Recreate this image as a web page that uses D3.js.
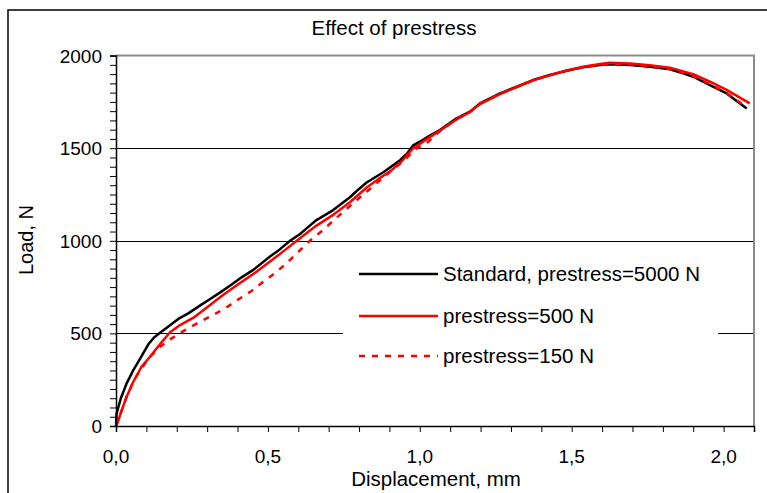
<!DOCTYPE html>
<html>
<head>
<meta charset="utf-8">
<script src="https://cdn.jsdelivr.net/npm/d3@7"></script>
<style>
  body { margin: 0; background: #fff; }
  text { font-family: "Liberation Sans", Arial, sans-serif; }
</style>
</head>
<body>
<svg width="767" height="493"></svg>
<script>
// Effect of prestress - load vs displacement
var dispStd = [0, 0.002, 0.016, 0.035, 0.057, 0.079, 0.106, 0.125, 0.145, 0.167, 0.205, 0.238, 0.276, 0.31, 0.342, 0.375, 0.408, 0.452, 0.507, 0.54, 0.573, 0.606, 0.633, 0.66, 0.715, 0.77, 0.8, 0.825, 0.88, 0.935, 0.96, 0.978, 1.0, 1.033, 1.066, 1.121, 1.165, 1.198, 1.264, 1.319, 1.373, 1.428, 1.483, 1.538, 1.593, 1.626, 1.692, 1.757, 1.823, 1.867, 1.9, 1.955, 2.01, 2.076];
var loadStd = [0, 68, 150, 230, 302, 362, 440, 478, 503, 530, 578, 608, 650, 686, 720, 757, 797, 843, 915, 955, 1000, 1037, 1075, 1112, 1166, 1235, 1280, 1315, 1370, 1435, 1475, 1515, 1535, 1568, 1598, 1661, 1697, 1742, 1796, 1832, 1868, 1895, 1918, 1937, 1949, 1953, 1949, 1940, 1926, 1904, 1886, 1841, 1796, 1715];

var disp500 = [0, 0.008, 0.019, 0.035, 0.057, 0.084, 0.112, 0.134, 0.156, 0.178, 0.211, 0.255, 0.299, 0.35, 0.408, 0.46, 0.507, 0.56, 0.595, 0.63, 0.66, 0.715, 0.77, 0.825, 0.87, 0.902, 0.94, 0.978, 1.033, 1.066, 1.121, 1.165, 1.198, 1.264, 1.319, 1.373, 1.428, 1.483, 1.538, 1.593, 1.626, 1.692, 1.757, 1.823, 1.867, 1.9, 1.955, 2.01, 2.086];
var load500 = [0, 32, 86, 158, 239, 320, 374, 420, 464, 506, 545, 585, 640, 705, 772, 830, 888, 955, 1000, 1045, 1082, 1140, 1208, 1288, 1340, 1375, 1428, 1500, 1560, 1595, 1655, 1695, 1738, 1792, 1830, 1866, 1893, 1920, 1940, 1955, 1961, 1958, 1948, 1935, 1915, 1900, 1860, 1815, 1742];

var disp150 = [0, 0.008, 0.019, 0.035, 0.057, 0.075, 0.106, 0.145, 0.183, 0.227, 0.271, 0.309, 0.359, 0.403, 0.447, 0.485, 0.524, 0.562, 0.6, 0.638, 0.677, 0.748, 0.825, 0.902, 0.945, 0.99, 1.028, 1.066, 1.121, 1.165, 1.198, 1.264, 1.319, 1.373, 1.428, 1.483, 1.538, 1.593, 1.626, 1.692, 1.757, 1.823, 1.867, 1.9, 1.955, 2.01, 2.076];
var load150 = [0, 32, 86, 158, 238, 290, 362, 428, 473, 518, 558, 590, 635, 684, 730, 779, 826, 880, 940, 1000, 1052, 1157, 1265, 1373, 1430, 1500, 1535, 1592, 1658, 1696, 1740, 1794, 1831, 1867, 1894, 1918, 1938, 1950, 1956, 1952, 1942, 1928, 1906, 1888, 1845, 1798, 1720];

var seriesNames = ['Standard, prestress=5000 N', 'prestress=500 N', 'prestress=150 N'];
var yTicks = [0, 500, 1000, 1500, 2000];
var xTicks = [0, 0.5, 1.0, 1.5, 2.0];

const svg = d3.select('svg');

// outer chart frame
svg.append('rect')
    .attr('x', 8).attr('y', 10)
    .attr('width', 800).attr('height', 520)
    .attr('fill', '#fff')
    .attr('stroke', '#000')
    .attr('stroke-width', 1.5);

var x = d3.scaleLinear().domain([0, 2.1]).range([116, 754]);
var y = d3.scaleLinear().domain([0, 2000]).range([426, 55.6]);

// gridlines
svg.append('g')
    .selectAll('line')
    .data(yTicks.slice(1, 4))
    .enter()
    .append('line')
    .attr('x1', x(0)).attr('x2', x(2.1))
    .attr('y1', function(d) { return Math.round(y(d)) + 0.5; })
    .attr('y2', function(d) { return Math.round(y(d)) + 0.5; })
    .attr('stroke', '#000')
    .attr('stroke-width', 1);

// plot area border (top + right in gray)
svg.append('path')
    .attr('d', 'M' + x(0) + ',' + y(2000) + 'H' + x(2.1) + 'V' + y(0))
    .attr('fill', 'none')
    .attr('stroke', '#8c8c8c')
    .attr('stroke-width', 2);

// legend box hides the 500 gridline
svg.append('rect')
    .attr('x', 343).attr('y', 256)
    .attr('width', 375).attr('height', 118)
    .attr('fill', '#fff');

// curves
var line = d3.line()
    .x(function(d) { return x(d[0]); })
    .y(function(d) { return y(d[1]); });

var curves = [
    {d: d3.zip(dispStd, loadStd), color: '#000', dash: null},
    {d: d3.zip(disp500, load500), color: '#ff0000', dash: null},
    {d: d3.zip(disp150, load150), color: '#ff0000', dash: '6,7'}
];

svg.append('g')
    .selectAll('path')
    .data(curves)
    .enter()
    .append('path')
    .attr('d', function(c) { return line(c.d); })
    .attr('fill', 'none')
    .attr('stroke', function(c) { return c.color; })
    .attr('stroke-width', 2.5)
    .attr('stroke-linejoin', 'round')
    .attr('stroke-dasharray', function(c) { return c.dash; });

// y axis: minor ticks every 50
var yAxis = d3.axisLeft(y)
    .tickValues(d3.range(0, 2001, 50))
    .tickSize(6)
    .tickFormat('');
svg.append('g')
    .attr('transform', 'translate(' + x(0) + ',0)')
    .call(yAxis)
    .call(function(g) {
        g.select('.domain').attr('stroke', '#000').attr('stroke-width', 1.5);
        g.selectAll('.tick line').attr('stroke', '#000');
    });

svg.append('g')
    .selectAll('text')
    .data(yTicks)
    .enter()
    .append('text')
    .attr('x', 102)
    .attr('y', function(d) { return y(d) + 7; })
    .attr('text-anchor', 'end')
    .attr('font-size', 19)
    .text(function(d) { return d; });

// x axis: minor ticks every 0.1
var xAxis = d3.axisBottom(x)
    .tickValues(d3.range(0, 22).map(function(i) { return i / 10; }))
    .tickSize(6)
    .tickFormat('');
svg.append('g')
    .attr('transform', 'translate(0,' + y(0) + ')')
    .call(xAxis)
    .call(function(g) {
        g.select('.domain').attr('stroke', '#000').attr('stroke-width', 1.5);
        g.selectAll('.tick line').attr('stroke', '#000');
    });

svg.append('g')
    .selectAll('text')
    .data(xTicks)
    .enter()
    .append('text')
    .attr('x', function(d) { return x(d); })
    .attr('y', 463)
    .attr('text-anchor', 'middle')
    .attr('font-size', 19)
    .text(function(d) { return d.toFixed(1).replace('.', ','); });

// titles
svg.append('text')
    .attr('x', 394).attr('y', 35)
    .attr('text-anchor', 'middle')
    .attr('font-size', 20.5)
    .text('Effect of prestress');

svg.append('text')
    .attr('x', 436).attr('y', 486)
    .attr('text-anchor', 'middle')
    .attr('font-size', 20.5)
    .text('Displacement, mm');

svg.append('text')
    .attr('transform', 'translate(33,240) rotate(-90)')
    .attr('text-anchor', 'middle')
    .attr('font-size', 20)
    .text('Load, N');

// legend
var legY = [274, 316, 356];
var leg = svg.append('g')
    .selectAll('g')
    .data(curves)
    .enter()
    .append('g')
    .attr('transform', function(c, i) { return 'translate(0,' + legY[i] + ')'; });

leg.append('line')
    .attr('x1', 359).attr('x2', 438)
    .attr('stroke', function(c) { return c.color; })
    .attr('stroke-width', 2.5)
    .attr('stroke-dasharray', function(c) { return c.dash; });

leg.append('text')
    .attr('x', 443).attr('y', 7)
    .attr('font-size', 20.5)
    .text(function(c, i) { return seriesNames[i]; });
</script>
</body>
</html>
